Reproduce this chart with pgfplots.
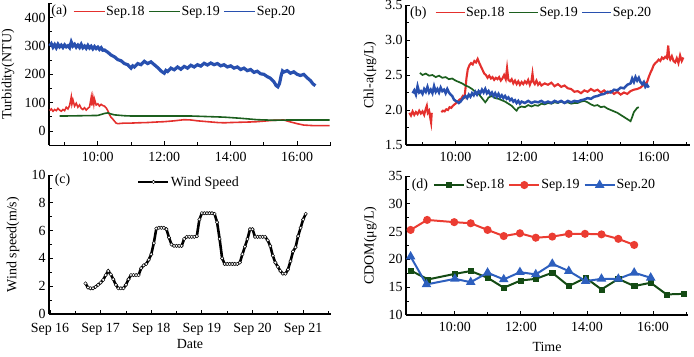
\documentclass[border=0pt]{standalone}
\usepackage{fontspec}
\setmainfont{Liberation Serif}
\usepackage{pgfplots}
\pgfplotsset{compat=1.18}
\definecolor{cred}{RGB}{228,48,45}
\definecolor{cgreen}{RGB}{28,95,30}
\definecolor{cblue}{RGB}{40,80,175}
\definecolor{dgreen}{RGB}{20,75,20}
\definecolor{dred}{RGB}{235,60,50}
\definecolor{dblue}{RGB}{45,95,190}
\pgfplotsset{
  myax/.style={
    scale only axis, axis lines=left,
    axis line style={-, line width=1.1pt},
    tick align=inside, major tick length=4bp, minor tick length=3bp,
    every tick/.style={black, line width=0.9pt},
    tick label style={font=\fontsize{14}{16}\selectfont},
    xticklabel style={yshift=-4bp},
    label style={font=\fontsize{14}{16}\selectfont},
    /pgf/number format/assume math mode=true,
    clip=false,
    legend style={draw=none, fill=none, legend columns=-1, inner sep=0pt,
      font=\fontsize{14}{16}\selectfont, anchor=west,
      nodes={inner sep=1pt},
      /tikz/every even column/.append style={column sep=3bp}},
  },
  timeax/.style={xtick={10,12,14,16}, xticklabels={10:00,12:00,14:00,16:00},
    minor xtick={9,11,13,15,17}},
}
\begin{document}
\begin{tikzpicture}
\path[use as bounding box] (0,0) rectangle (694bp,357bp);

% ---------------- (a)
\begin{axis}[myax, timeax, at={(49bp,211.8bp)}, anchor=south west,
  width=282bp, height=141.7bp, xmin=8.53, xmax=17.02, ymin=-50, ymax=450,
  ytick={0,100,200,300,400}, minor ytick={-50,50,150,250,350,450},
  ylabel={Turbidity(NTU)},
  ylabel style={at={(axis description cs:-0.145,0.5)}, anchor=center},
  legend style={at={(axis description cs:0.085,0.943)}},
  legend image code/.code={\draw[#1, line width=1pt] (0bp,0bp) -- (31bp,0bp);}]
\addplot[cred, line width=1.6pt] coordinates {
(8.55,72)(8.6,78)(8.65,70)(8.7,76)(8.75,72)(8.8,80)(8.85,74)(8.9,70)(8.95,76)(9.0,72)
(9.05,84)(9.1,78)(9.15,90)(9.2,120)(9.22,95)(9.25,110)(9.3,88)(9.35,98)(9.4,84)(9.45,92)
(9.5,80)(9.55,76)(9.6,82)(9.65,74)(9.7,80)(9.75,85)(9.8,118)(9.82,90)(9.85,120)(9.88,95)
(9.9,112)(9.95,92)(10.0,96)(10.05,88)(10.1,94)(10.15,90)(10.2,88)(10.25,82)(10.3,72)(10.35,58)
(10.4,48)(10.45,42)(10.5,35)(10.55,28)(10.6,26)(10.7,27)(10.8,28)(11.0,28)(11.2,29)(11.5,30)
(11.8,32)(12.0,33)(12.3,36)(12.6,40)(12.8,39)(13.0,36)(13.3,33)(13.6,30)(13.8,29)(14.0,30)
(14.3,31)(14.6,32)(14.8,33)(15.0,35)(15.3,38)(15.6,39)(15.8,32)(16.0,26)(16.2,21)(16.5,19)(16.98,19)};
\addlegendentry{Sep.18}
\addplot[cgreen, line width=1.6pt] coordinates {
(8.85,53)(9.0,53)(9.5,54)(10.0,55)(10.2,62)(10.3,64)(10.4,60)(10.5,57)(10.8,54)(11.0,53)
(12.0,53)(12.8,53)(13.3,51)(13.8,49)(14.3,45)(14.8,40)(15.3,38)(15.8,39)(16.4,39)(16.98,39)};
\addlegendentry{Sep.19}
\addplot[cblue, line width=3.2pt] coordinates {
(8.55,300)(8.6,308)(8.65,296)(8.7,305)(8.75,294)(8.8,306)(8.85,297)(8.9,303)(8.95,295)(9.0,304)
(9.05,297)(9.1,301)(9.15,294)(9.2,314)(9.25,300)(9.3,306)(9.35,296)(9.4,303)(9.45,295)(9.5,306)
(9.55,294)(9.6,300)(9.65,292)(9.7,302)(9.75,293)(9.8,299)(9.85,290)(9.9,298)(9.95,291)(10.0,296)
(10.05,288)(10.1,294)(10.15,285)(10.2,286)(10.3,278)(10.4,268)(10.5,262)(10.6,252)(10.7,248)(10.8,238)
(10.9,234)(11.0,222)(11.05,230)(11.1,226)(11.2,238)(11.3,234)(11.4,246)(11.5,238)(11.6,244)(11.7,234)
(11.8,224)(11.9,212)(12.0,204)(12.05,214)(12.1,210)(12.2,222)(12.3,216)(12.4,226)(12.5,218)(12.6,228)
(12.7,222)(12.8,232)(12.9,226)(13.0,234)(13.1,229)(13.2,239)(13.3,233)(13.4,240)(13.5,234)(13.6,238)
(13.7,230)(13.8,234)(13.9,226)(14.0,230)(14.1,222)(14.2,226)(14.3,217)(14.4,222)(14.5,213)(14.6,217)
(14.7,207)(14.8,211)(14.9,202)(15.0,200)(15.1,192)(15.2,186)(15.3,174)(15.37,160)(15.42,156)(15.47,168)
(15.52,196)(15.56,212)(15.6,208)(15.7,213)(15.8,204)(15.9,209)(16.0,200)(16.1,196)(16.2,200)(16.3,188)
(16.4,178)(16.48,166)(16.55,160)};
\addlegendentry{Sep.20}
\node[anchor=west, font=\fontsize{14}{16}\selectfont, inner sep=0pt] at (axis description cs:0.008,0.943) {(a)};
\end{axis}

% ---------------- (b)
\begin{axis}[myax, timeax, at={(406bp,212bp)}, anchor=south west,
  width=284bp, height=140bp, xmin=8.5, xmax=17.1, ymin=1.5, ymax=3.5,
  ytick={1.5,2.0,2.5,3.0,3.5}, minor ytick={1.75,2.25,2.75,3.25},
  yticklabel style={/pgf/number format/.cd, fixed, fixed zerofill, precision=1},
  ylabel={Chl-a(μg/L)},
  ylabel style={at={(axis description cs:-0.127,0.5)}, anchor=center},
  unbounded coords=jump,
  legend style={at={(axis description cs:0.102,0.943)}},
  legend image code/.code={\draw[#1, line width=1pt] (0bp,0bp) -- (29bp,0bp);}]
\addplot[cred, line width=2.1pt] coordinates {
(8.6,1.96)(8.65,1.92)(8.7,1.98)(8.75,1.93)(8.8,1.97)(8.85,1.94)(8.9,1.99)(8.95,1.95)(9.0,1.98)(9.05,1.93)
(9.1,2.02)(9.13,2.06)(9.16,1.96)(9.2,1.99)(9.23,1.9)(9.26,1.82)(9.28,1.96)(9.4,nan)
(9.57,1.97)(9.62,1.99)(9.67,1.98)(9.72,2.01)(9.77,2.0)(9.82,2.04)(9.87,2.03)(9.92,2.06)(9.97,2.08)(10.02,2.1)
(10.07,2.12)(10.12,2.15)(10.17,2.16)(10.22,2.2)(10.27,2.18)(10.3,2.3)(10.33,2.45)(10.37,2.58)(10.42,2.64)(10.47,2.67)
(10.52,2.65)(10.57,2.7)(10.62,2.68)(10.67,2.73)(10.72,2.67)(10.77,2.62)(10.82,2.57)(10.87,2.52)(10.92,2.5)(10.97,2.46)
(11.02,2.49)(11.07,2.45)(11.12,2.47)(11.17,2.43)(11.22,2.46)(11.27,2.44)(11.32,2.47)(11.37,2.42)(11.42,2.45)(11.47,2.5)
(11.52,2.44)(11.56,2.6)(11.6,2.43)(11.65,2.41)(11.7,2.44)(11.75,2.38)(11.8,2.42)(11.85,2.37)(11.9,2.41)(11.95,2.36)
(12.0,2.4)(12.05,2.37)(12.1,2.41)(12.15,2.38)(12.2,2.43)(12.25,2.36)(12.3,2.42)(12.33,2.52)(12.36,2.4)(12.4,2.37)
(12.45,2.42)(12.5,2.36)(12.55,2.39)(12.6,2.35)(12.7,2.38)(12.8,2.36)(12.9,2.39)(13.0,2.34)(13.1,2.37)(13.2,2.33)
(13.3,2.35)(13.4,2.31)(13.5,2.3)(13.6,2.26)(13.7,2.27)(13.8,2.24)(13.9,2.28)(14.0,2.26)(14.1,2.3)(14.2,2.27)
(14.3,2.29)(14.4,2.25)(14.5,2.28)(14.6,2.24)(14.7,2.27)(14.8,2.23)(14.9,2.26)(15.0,2.22)(15.1,2.25)(15.2,2.23)
(15.3,2.27)(15.4,2.29)(15.5,2.3)(15.6,2.32)(15.7,2.36)(15.8,2.4)(15.85,2.47)(15.9,2.53)(15.95,2.58)(16.0,2.64)
(16.05,2.67)(16.1,2.69)(16.15,2.72)(16.2,2.7)(16.25,2.75)(16.3,2.73)(16.35,2.76)(16.4,2.74)(16.44,2.92)(16.47,2.75)
(16.5,2.72)(16.55,2.77)(16.6,2.7)(16.65,2.68)(16.7,2.74)(16.75,2.67)(16.8,2.78)(16.85,2.7)(16.9,2.75)};
\addlegendentry{Sep.18}
\addplot[cgreen, line width=1.7pt] coordinates {
(8.92,2.53)(9.0,2.5)(9.1,2.52)(9.2,2.49)(9.3,2.5)(9.4,2.47)(9.5,2.49)(9.6,2.46)(9.7,2.47)(9.8,2.44)
(9.9,2.45)(10.0,2.42)(10.1,2.4)(10.2,2.38)(10.3,2.35)(10.4,2.33)(10.5,2.3)(10.6,2.26)(10.7,2.23)(10.8,2.17)
(10.9,2.11)(10.95,2.14)(11.0,2.18)(11.1,2.2)(11.2,2.17)(11.3,2.16)(11.4,2.14)(11.5,2.12)(11.6,2.09)(11.7,2.06)
(11.8,2.01)(11.85,1.99)(11.9,2.03)(12.0,2.05)(12.1,2.04)(12.2,2.07)(12.3,2.05)(12.4,2.07)(12.5,2.06)(12.6,2.09)
(12.7,2.08)(12.8,2.1)(12.9,2.09)(13.0,2.11)(13.1,2.1)(13.2,2.12)(13.3,2.1)(13.4,2.11)(13.5,2.09)(13.6,2.1)
(13.7,2.1)(13.8,2.12)(13.9,2.13)(14.0,2.11)(14.1,2.08)(14.2,2.06)(14.3,2.07)(14.4,2.04)(14.5,2.05)(14.6,2.02)
(14.7,2.0)(14.8,1.98)(14.9,1.96)(15.0,1.93)(15.1,1.9)(15.2,1.87)(15.3,1.84)(15.35,1.9)(15.4,1.97)(15.45,2.0)
(15.5,2.03)(15.55,2.04)};
\addlegendentry{Sep.19}
\addplot[cblue, line width=2.5pt] coordinates {
(8.7,2.24)(8.75,2.28)(8.8,2.22)(8.85,2.34)(8.9,2.25)(8.95,2.27)(9.0,2.23)(9.05,2.3)(9.1,2.26)(9.15,2.33)
(9.2,2.25)(9.25,2.29)(9.3,2.24)(9.35,2.34)(9.4,2.26)(9.45,2.3)(9.5,2.25)(9.55,2.32)(9.6,2.27)(9.65,2.29)
(9.7,2.24)(9.75,2.3)(9.8,2.25)(9.85,2.22)(9.9,2.2)(9.95,2.15)(10.0,2.13)(10.05,2.12)(10.1,2.1)(10.15,2.12)
(10.2,2.15)(10.25,2.18)(10.3,2.2)(10.35,2.17)(10.4,2.22)(10.45,2.19)(10.5,2.24)(10.55,2.21)(10.6,2.26)(10.65,2.22)
(10.7,2.27)(10.75,2.24)(10.8,2.29)(10.85,2.25)(10.9,2.3)(10.95,2.24)(11.0,2.27)(11.05,2.22)(11.1,2.25)(11.15,2.2)
(11.2,2.24)(11.25,2.19)(11.3,2.23)(11.35,2.18)(11.4,2.21)(11.45,2.17)(11.5,2.2)(11.55,2.16)(11.6,2.18)(11.65,2.14)
(11.7,2.16)(11.75,2.12)(11.8,2.14)(11.85,2.1)(11.9,2.13)(11.95,2.09)(12.0,2.12)(12.1,2.1)(12.2,2.13)(12.3,2.1)
(12.4,2.12)(12.5,2.11)(12.6,2.13)(12.7,2.1)(12.8,2.12)(12.9,2.1)(13.0,2.13)(13.1,2.11)(13.2,2.13)(13.3,2.1)
(13.4,2.13)(13.5,2.11)(13.6,2.13)(13.7,2.12)(13.8,2.14)(13.9,2.15)(14.0,2.17)(14.1,2.16)(14.2,2.19)(14.3,2.2)
(14.4,2.22)(14.5,2.23)(14.6,2.26)(14.7,2.25)(14.8,2.29)(14.9,2.28)(15.0,2.32)(15.1,2.31)(15.2,2.36)(15.3,2.38)
(15.35,2.45)(15.4,2.4)(15.45,2.47)(15.5,2.42)(15.55,2.46)(15.6,2.4)(15.65,2.37)(15.7,2.4)(15.75,2.33)(15.8,2.36)(15.85,2.32)};
\addlegendentry{Sep.20}
\node[anchor=west, font=\fontsize{14}{16}\selectfont, inner sep=0pt] at (axis description cs:0.014,0.943) {(b)};
\end{axis}

% ---------------- (c)
\begin{axis}[myax, at={(49bp,43bp)}, anchor=south west,
  width=282bp, height=139bp, xmin=15.98, xmax=21.55, ymin=0, ymax=10,
  xtick={16,17,18,19,20,21}, xticklabels={Sep 16,Sep 17,Sep 18,Sep 19,Sep 20,Sep 21},
  minor xtick={16.5,17.5,18.5,19.5,20.5,21.5},
  xticklabel style={yshift=-1.5bp},
  ytick={0,2,4,6,8,10}, minor ytick={1,3,5,7,9},
  xlabel={Date}, ylabel={Wind speed(m/s)},
  xlabel style={at={(axis description cs:0.5,-0.215)}, anchor=center},
  ylabel style={at={(axis description cs:-0.128,0.5)}, anchor=center},
  legend style={at={(axis description cs:0.312,0.95)}},
  legend image code/.code={\draw[#1, mark repeat=2, mark phase=2] plot coordinates {(0bp,0bp) (15bp,0bp) (30bp,0bp)};}]
\addplot[black, line width=2.6pt, mark=*, mark size=1.7bp,
  mark options={fill=white, draw=black, line width=0.45pt, solid}] coordinates {
(16.70,2.2)(16.75,1.9)(16.80,1.85)(16.85,1.85)(16.90,1.95)(16.95,2.1)(17.00,2.25)(17.05,2.45)(17.10,2.8)(17.15,3.1)
(17.20,2.85)(17.25,2.5)(17.30,2.1)(17.35,1.85)(17.40,1.85)(17.45,1.85)(17.50,2.1)(17.55,2.5)(17.60,2.8)(17.65,2.8)
(17.70,2.8)(17.75,2.8)(17.80,3.3)(17.85,3.5)(17.90,3.6)(17.95,3.9)(18.00,4.3)(18.05,5.1)(18.10,6.15)(18.15,6.2)
(18.20,6.2)(18.25,6.2)(18.30,6.1)(18.35,5.5)(18.40,5.0)(18.45,4.9)(18.50,4.9)(18.55,4.9)(18.60,4.9)(18.65,5.4)
(18.70,5.55)(18.75,5.55)(18.80,5.55)(18.85,5.55)(18.90,5.6)(18.95,6.8)(19.00,7.25)(19.05,7.25)(19.10,7.25)(19.15,7.25)
(19.20,7.25)(19.25,7.2)(19.30,6.6)(19.35,5.4)(19.40,4.0)(19.45,3.6)(19.50,3.6)(19.55,3.6)(19.60,3.6)(19.65,3.6)
(19.70,3.6)(19.75,3.7)(19.80,4.3)(19.85,4.85)(19.90,5.4)(19.95,6.1)(20.00,6.1)(20.05,5.55)(20.10,5.55)(20.15,5.55)
(20.20,5.55)(20.25,5.55)(20.30,5.3)(20.35,4.9)(20.40,4.2)(20.45,3.7)(20.50,3.4)(20.55,3.1)(20.60,2.9)(20.65,2.9)
(20.70,3.2)(20.75,3.8)(20.80,4.5)(20.85,4.8)(20.90,5.6)(20.95,6.2)(21.00,6.8)(21.05,7.2)};
\addlegendentry{Wind Speed}
\node[anchor=west, font=\fontsize{14}{16}\selectfont, inner sep=0pt] at (axis description cs:0.02,0.964) {(c)};
\end{axis}

% ---------------- (d)
\begin{axis}[myax, timeax, at={(406bp,42bp)}, anchor=south west,
  width=282bp, height=139bp, xmin=8.52, xmax=17.06, ymin=10, ymax=35,
  ytick={10,15,20,25,30,35}, minor ytick={12.5,17.5,22.5,27.5,32.5},
  xlabel={Time}, ylabel={CDOM(μg/L)},
  xlabel style={at={(axis description cs:0.5,-0.23)}, anchor=center},
  ylabel style={at={(axis description cs:-0.127,0.5)}, anchor=center},
  legend style={at={(axis description cs:0.095,0.935)}},
  legend image code/.code={\draw[#1, mark repeat=2, mark phase=2] plot coordinates {(0bp,0bp) (15bp,0bp) (30bp,0bp)};}]
\addplot[dgreen, line width=2pt, mark=square*, mark size=2.6bp, mark options={solid, line width=0.5pt}] coordinates {
(8.66,18.0)(9.19,16.4)(10.0,17.4)(10.48,17.9)(10.99,16.7)(11.48,14.9)(11.99,16.2)(12.45,16.5)(12.95,17.6)(13.45,15.2)
(13.96,16.7)(14.44,14.6)(14.95,16.5)(15.43,15.2)(15.93,15.8)(16.41,13.7)(16.92,13.8)};
\addlegendentry{Sep.18}
\addplot[dred, line width=2pt, mark=*, mark size=3bp, mark options={solid}] coordinates {
(8.66,25.3)(9.16,27.1)(9.98,26.7)(10.48,26.5)(10.99,25.3)(11.48,24.2)(11.97,24.7)(12.45,23.9)(12.95,24.1)(13.45,24.6)
(13.94,24.6)(14.44,24.5)(14.95,23.7)(15.43,22.6)};
\addlegendentry{Sep.19}
\addplot[dblue, line width=2pt, mark=triangle*, mark size=3.6bp, mark options={solid}] coordinates {
(8.66,20.5)(9.14,15.5)(10.0,16.5)(10.48,15.9)(10.99,17.6)(11.48,16.4)(11.97,17.7)(12.45,17.3)(12.95,19.2)(13.45,17.9)
(13.96,16.1)(14.44,16.5)(14.95,16.5)(15.43,17.6)(15.93,16.7)};
\addlegendentry{Sep.20}
\node[anchor=west, font=\fontsize{14}{16}\selectfont, inner sep=0pt] at (axis description cs:0.02,0.935) {(d)};
\end{axis}
\end{tikzpicture}
\end{document}
